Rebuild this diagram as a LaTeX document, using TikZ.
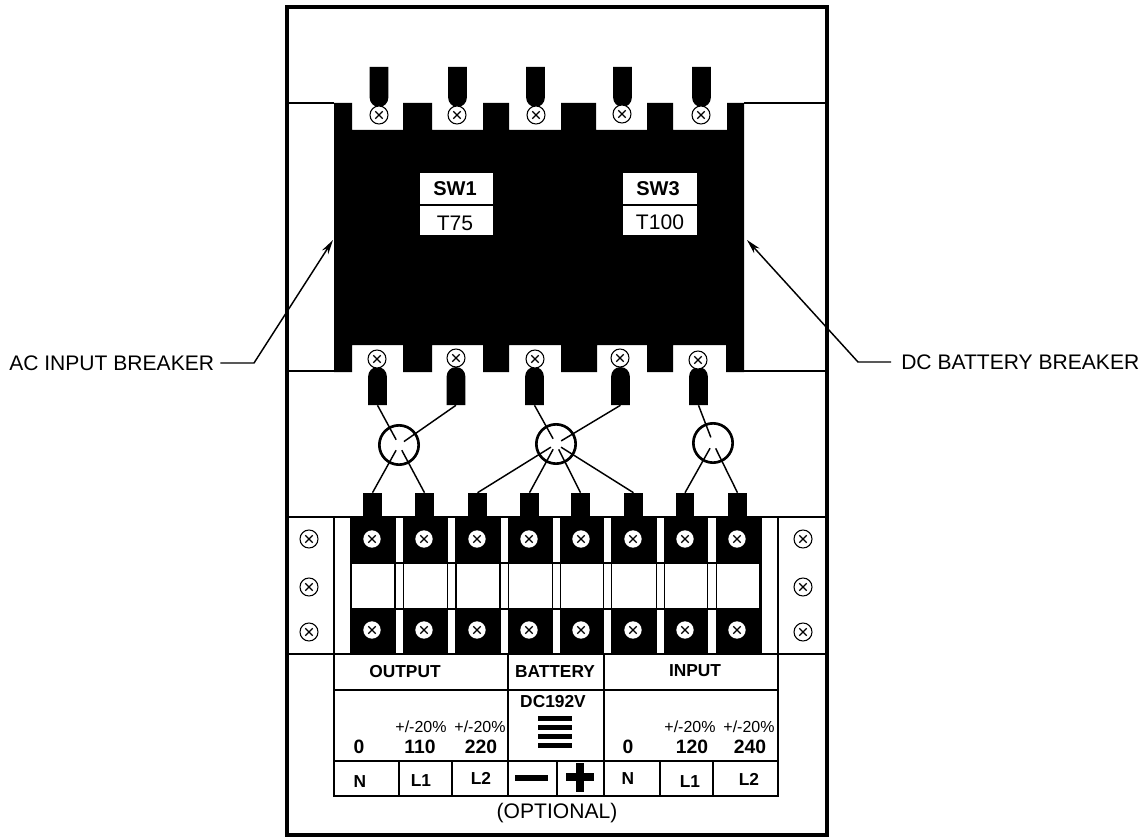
\documentclass[tikz,border=0pt]{standalone}
\usepackage{fontspec}
\setmainfont{Liberation Sans}
\usepackage{xcolor}
\usepackage{tikz}
\usetikzlibrary{calc,arrows.meta,shapes.misc}
\definecolor{ink}{HTML}{000000}
\definecolor{paper}{HTML}{FFFFFF}
\tikzset{
  frame/.style={draw=ink, line width=2.3pt},
  base/.style={draw=ink, line width=1.2pt},
  cell/.style={draw=ink, line width=1.1pt},
  wire/.style={draw=ink, line width=1.1pt, shorten >=4.5pt},
  lead/.style={draw=ink, line width=1.1pt},
  ring/.style={circle, draw=ink, line width=2pt, inner sep=0pt, minimum size=29.5pt},
  lugtop/.style={shape=rounded rectangle, rounded rectangle left arc=none, rotate=-90, fill=ink, inner sep=0pt, minimum width=30pt, minimum height=14pt},
  lugbot/.style={shape=rounded rectangle, rounded rectangle left arc=none, rotate=90, fill=ink, inner sep=0pt, minimum width=28.5pt, minimum height=14pt},
  stub/.style={rectangle, fill=ink, inner sep=0pt, minimum width=14pt, minimum height=18pt},
  scr/.style={circle, draw=ink, fill=paper, line width=0.8pt, inner sep=0pt, minimum size=13.5pt,
    path picture={
      \draw[line width=1pt] ([shift={(-2.8pt,-2.8pt)}]path picture bounding box.center) -- ([shift={(2.8pt,2.8pt)}]path picture bounding box.center);
      \draw[line width=1pt] ([shift={(-2.8pt,2.8pt)}]path picture bounding box.center) -- ([shift={(2.8pt,-2.8pt)}]path picture bounding box.center);
    }},
  scrw/.style={scr, draw=none, minimum size=13pt},
  lab/.style={text=ink, inner sep=0pt, font=\fontsize{15.8}{18}\selectfont},
  labb/.style={text=ink, inner sep=0pt, font=\fontsize{15}{18}\selectfont\bfseries},
  head/.style={text=ink, inner sep=0pt, font=\fontsize{13}{15}\selectfont\bfseries},
  volt/.style={text=ink, inner sep=0pt, font=\fontsize{14.5}{16}\selectfont\bfseries},
  tol/.style={text=ink, inner sep=0pt, font=\fontsize{12}{14}\selectfont},
}
\begin{document}
\begin{tikzpicture}[x=0.75pt,y=-0.75pt]
  \useasboundingbox (0,0) rectangle (1147,838);

  % housing
  \draw[frame] (287,7) rectangle (827,835);
  \draw[base] (287,103) -- (334,103);
  \draw[base] (744,103) -- (827,103);
  \draw[base] (287,371) -- (334,371);
  \draw[base] (744,371) -- (827,371);
  \draw[base] (287,517) -- (827,517);
  \draw[frame, line width=1.6pt] (287,654) -- (827,654);
  \draw[base] (334,517) -- (334,654);
  \draw[base] (778,517) -- (778,654);

  % breaker body with notches
  \fill[ink] (334,103) -- (352,103) -- (352,130) -- (403,130) -- (403,103)
    -- (432,103) -- (432,130) -- (483,130) -- (483,103)
    -- (509,103) -- (509,130) -- (561,130) -- (561,103)
    -- (596,103) -- (596,130) -- (647,130) -- (647,103)
    -- (673,103) -- (673,130) -- (727,130) -- (727,103)
    -- (744,103) -- (744,372) -- (726,372) -- (726,345) -- (673,345) -- (673,372)
    -- (647,372) -- (647,345) -- (597,345) -- (597,372)
    -- (561,372) -- (561,345) -- (509,345) -- (509,372)
    -- (483,372) -- (483,345) -- (432,345) -- (432,372)
    -- (403,372) -- (403,345) -- (352,345) -- (352,372)
    -- (334,372) -- cycle;

  % breaker plates
  \draw[cell, fill=paper] (419,172) rectangle (494,236);
  \draw[cell] (419,205) -- (494,205);
  \draw[cell, fill=paper] (622,172) rectangle (698,236);
  \draw[cell] (622,205) -- (698,205);
  \node[labb] (swa) at (455,189) {SW1};
  \node[lab] (ta) at (455,223) {T75};
  \node[labb] (swc) at (658,189) {SW3};
  \node[lab] (tc) at (660,222) {T100};

  % top lugs + screws
  \node[lugtop] (lta) at (379,87) {};
  \node[lugtop] (ltb) at (457.5,87) {};
  \node[lugtop] (ltc) at (535.5,87) {};
  \node[lugtop] (ltd) at (622.5,87) {};
  \node[lugtop] (lte) at (701.5,87) {};
  \node[scr] (sta) at (379,115) {};
  \node[scr] (stb) at (457,115) {};
  \node[scr] (stc) at (536,115) {};
  \node[scr] (std) at (622,114) {};
  \node[scr] (ste) at (701,115) {};

  % bottom lugs + screws
  \node[lugbot] (lba) at (377.5,386) {};
  \node[lugbot] (lbb) at (456,386) {};
  \node[lugbot] (lbc) at (534.5,386) {};
  \node[lugbot] (lbd) at (620.5,386) {};
  \node[lugbot] (lbe) at (698.5,386) {};
  \node[scr] (sba) at (377,359) {};
  \node[scr] (sbb) at (456,358) {};
  \node[scr] (sbc) at (535,359) {};
  \node[scr] (sbd) at (620,358) {};
  \node[scr] (sbe) at (698,360) {};

  % rings
  \node[ring] (ra) at (399,445) {};
  \node[ring] (rb) at (556,444) {};
  \node[ring] (rc) at (713,443) {};

  % terminal stubs
  \node[stub] (ka) at (372.5,505) {};
  \node[stub] (kb) at (424.5,505) {};
  \node[stub] (kc) at (477.5,505) {};
  \node[stub] (kd) at (529.5,505) {};
  \node[stub] (ke) at (580.5,505) {};
  \node[stub] (kf) at (633.5,505) {};
  \node[stub] (kg) at (685,505) {};
  \node[stub] (kh) at (737.5,505) {};

  % wires
  \draw[wire] (lba.west) -- (ra.center);
  \draw[wire] (lbb.west) -- (ra.center);
  \draw[wire] (ka.north) -- (ra.center);
  \draw[wire] (kb.north) -- (ra.center);
  \draw[wire] (lbc.west) -- (rb.center);
  \draw[wire] (lbd.west) -- (rb.center);
  \draw[wire] (kc.north) -- (rb.center);
  \draw[wire] (kd.north) -- (rb.center);
  \draw[wire] (ke.north) -- (rb.center);
  \draw[wire] (kf.north) -- (rb.center);
  \draw[wire] (lbe.west) -- (rc.center);
  \draw[wire] (kg.north) -- (rc.center);
  \draw[wire] (kh.north) -- (rc.center);

  % terminal block
  \fill[ink] (350,517) rectangle (396,654);
  \fill[ink] (403,517) rectangle (448,654);
  \fill[ink] (455,517) rectangle (501,654);
  \fill[ink] (508,517) rectangle (553,654);
  \fill[ink] (560,517) rectangle (604,654);
  \fill[ink] (611,517) rectangle (657,654);
  \fill[ink] (664,517) rectangle (708,654);
  \fill[ink] (716,517) rectangle (762,654);
  \draw[cell, fill=paper] (351,563) rectangle (395,609);
  \draw[cell, fill=paper] (403.5,563) rectangle (447.5,609);
  \draw[cell, fill=paper] (456,563) rectangle (500,609);
  \draw[cell, fill=paper] (508.5,563) rectangle (552.5,609);
  \draw[cell, fill=paper] (560.5,563) rectangle (603.5,609);
  \draw[cell, fill=paper] (611.5,563) rectangle (656.5,609);
  \draw[cell, fill=paper] (664.5,563) rectangle (707.5,609);
  \draw[cell, fill=paper] (716.5,563) rectangle (760,609);
  \draw[cell] (395,563) -- (404,563);
  \draw[cell] (447,563) -- (456,563);
  \draw[cell] (500,563) -- (509,563);
  \draw[cell] (552,563) -- (561,563);
  \draw[cell] (603,563) -- (612,563);
  \draw[cell] (656,563) -- (665,563);
  \draw[cell] (707,563) -- (717,563);
  \draw[cell] (395,609) -- (404,609);
  \draw[cell] (447,609) -- (456,609);
  \draw[cell] (500,609) -- (509,609);
  \draw[cell] (552,609) -- (561,609);
  \draw[cell] (603,609) -- (612,609);
  \draw[cell] (656,609) -- (665,609);
  \draw[cell] (707,609) -- (717,609);

  % block screws
  \node[scrw] (ua) at (372,539) {};
  \node[scrw] (ub) at (424,539) {};
  \node[scrw] (uc) at (477,539) {};
  \node[scrw] (ud) at (529,539) {};
  \node[scrw] (ue) at (581,539) {};
  \node[scrw] (uf) at (633,539) {};
  \node[scrw] (ug) at (685,539) {};
  \node[scrw] (uh) at (737,539) {};
  \node[scrw] (va) at (372,630) {};
  \node[scrw] (vb) at (424,630) {};
  \node[scrw] (vc) at (477,630) {};
  \node[scrw] (vd) at (529,630) {};
  \node[scrw] (ve) at (581,630) {};
  \node[scrw] (vf) at (633,630) {};
  \node[scrw] (vg) at (685,630) {};
  \node[scrw] (vh) at (737,630) {};

  % side screws
  \node[scr] (pa) at (309,539) {};
  \node[scr] (pb) at (309,587) {};
  \node[scr] (pc) at (309,632) {};
  \node[scr] (qa) at (803,539) {};
  \node[scr] (qb) at (803,587) {};
  \node[scr] (qc) at (803,632) {};

  % table
  \draw[cell] (334,654) -- (334,796) -- (778,796) -- (778,654);
  \draw[cell] (334,690) -- (778,690);
  \draw[cell] (334,761) -- (778,761);
  \draw[cell] (508,654) -- (508,796);
  \draw[cell] (604,654) -- (604,796);
  \draw[cell] (399,761) -- (399,796);
  \draw[cell] (452,761) -- (452,796);
  \draw[cell] (557,761) -- (557,796);
  \draw[cell] (660,761) -- (660,796);
  \draw[cell] (713,761) -- (713,796);

  \node[head] (hout) at (405,672) {OUTPUT};
  \node[head] (hbat) at (555,672) {BATTERY};
  \node[head] (hinp) at (695,671) {INPUT};
  \node[head] (hdc) at (553,702) {DC192V};

  % battery symbol
  \fill[ink] (538,716) rectangle (572,720.5);
  \fill[ink] (538,725) rectangle (572,729.5);
  \fill[ink] (538,734) rectangle (572,738.5);
  \fill[ink] (538,743) rectangle (572,747.5);

  \node[tol] (ta1) at (421,727) {+/-20\%};
  \node[tol] (ta2) at (480,727) {+/-20\%};
  \node[tol] (ta3) at (690,727) {+/-20\%};
  \node[tol] (ta4) at (749,727) {+/-20\%};
  \node[volt] (va1) at (359,747) {0};
  \node[volt] (va2) at (420,747) {110};
  \node[volt] (va3) at (481,747) {220};
  \node[volt] (va4) at (628,747) {0};
  \node[volt] (va5) at (692,747) {120};
  \node[volt] (va6) at (750,747) {240};

  \node[head] (na) at (360,782) {N};
  \node[head] (nb) at (421,781) {L1};
  \node[head] (nc) at (481,778) {L2};
  \node[head] (nd) at (628,779) {N};
  \node[head] (ne) at (690,782) {L1};
  \node[head] (nf) at (749,779) {L2};

  % minus + plus
  \fill[ink] (515,775) rectangle (548,780.5);
  \fill[ink] (566,773) rectangle (594,781);
  \fill[ink] (576,763) rectangle (584,792);

  \node[lab] (opt) at (557,813) {(OPTIONAL)};

  % breaker labels
  \node[lab, anchor=west] (acl) at (9,363) {AC INPUT BREAKER};
  \node[lab, anchor=west] (dcl) at (901,362) {DC BATTERY BREAKER};
  \coordinate (ach) at (333,240);
  \coordinate (dch) at (747,240);
  \draw[lead, -{Stealth[length=11pt,width=5.5pt]}] ([xshift=4.5pt]acl.east) -- (254,363) -- (ach);
  \draw[lead, -{Stealth[length=11pt,width=5.5pt]}] ([xshift=-7.5pt]dcl.west) -- (858,362) -- (dch);
\end{tikzpicture}
\end{document}
